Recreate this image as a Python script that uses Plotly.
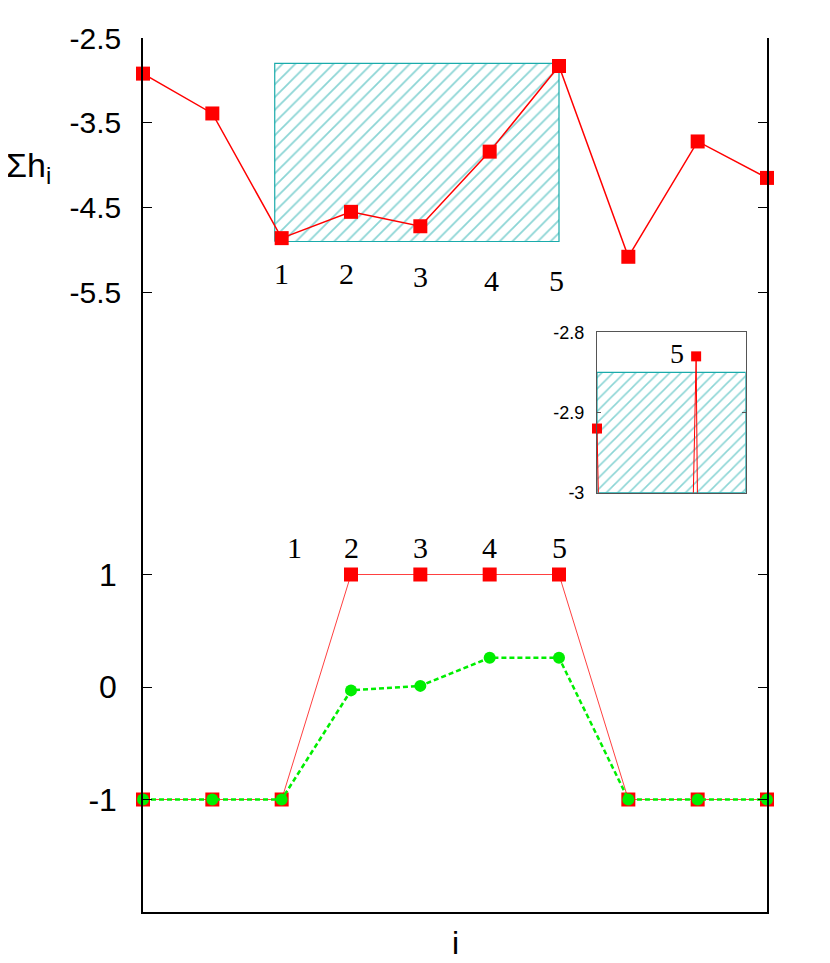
import plotly.graph_objects as go

# ---------------- data ----------------
i_vals = list(range(1, 11))
sum_h = [-2.92, -3.39, -4.86, -4.55, -4.72, -3.84, -2.83, -5.08, -3.72, -4.15]
spin = [-1, -1, -1, 1, 1, 1, 1, -1, -1, -1]
avg_spin = [-1, -1, -1, -0.03, 0.01, 0.26, 0.26, -1, -1, -1]

hatch_x = [2.9, 7.0]
hatch_y = [-4.9, -2.8]
inset_hatch_x = [1, 10]
inset_hatch_y = [-3.0, -2.85]

cluster_labels = ["1", "2", "3", "4", "5"]
upper_label_x = [3.0, 3.94, 5.0, 6.03, 6.97]
upper_label_y = [-5.28, -5.28, -5.31, -5.36, -5.36]
lower_label_x = [3.19, 4.0, 5.0, 6.0, 7.0]
lower_label_y = [1.24, 1.24, 1.24, 1.24, 1.24]

upper_ticks = [-2.5, -3.5, -4.5, -5.5]
lower_ticks = [1, 0, -1]
inset_ticks = [-2.8, -2.9, -3.0]
inset_ticktext = ["-2.8", "-2.9", "-3"]

RED = "#ff0000"
GREEN = "#00ee00"
TEAL = "#1aabab"
SANS = "Liberation Sans, Arial, sans-serif"
SERIF = "Liberation Serif, Times New Roman, serif"

# page body has an 8px margin: plot area target is x 143..767, y 38..912 on screen
OFF = 8
L, R, T, B = 143 - OFF, 830 - 767 + OFF, 38 - OFF, 963 - 912 + OFF
PW, PH = 830 - L - R, 963 - T - B  # 624 x 874

fig = go.Figure()

# main hatched rectangle (upper panel)
fig.add_trace(go.Scatter(
    x=[hatch_x[0], hatch_x[1], hatch_x[1], hatch_x[0], hatch_x[0]],
    y=[hatch_y[0], hatch_y[0], hatch_y[1], hatch_y[1], hatch_y[0]],
    xaxis="x", yaxis="y2", mode="lines", fill="toself",
    line=dict(color=TEAL, width=1.2),
    fillcolor="rgba(0,0,0,0)",
    fillpattern=dict(shape="/", fgcolor=TEAL, bgcolor="white", size=9, solidity=0.2),
    hoverinfo="skip", showlegend=False))

# upper series
fig.add_trace(go.Scatter(
    x=i_vals, y=sum_h, xaxis="x", yaxis="y2", mode="lines+markers",
    line=dict(color=RED, width=1.5),
    marker=dict(symbol="square", size=14, color=RED),
    cliponaxis=False, showlegend=False))

# lower series
fig.add_trace(go.Scatter(
    x=i_vals, y=spin, xaxis="x", yaxis="y", mode="lines+markers",
    line=dict(color="#ff4040", width=1),
    marker=dict(symbol="square", size=14, color=RED),
    cliponaxis=False, showlegend=False))
fig.add_trace(go.Scatter(
    x=i_vals, y=avg_spin, xaxis="x", yaxis="y", mode="lines+markers",
    line=dict(color=GREEN, width=2.5, dash="5px,3px"),
    marker=dict(symbol="circle", size=12, color=GREEN),
    cliponaxis=False, showlegend=False))

# inset hatch
fig.add_trace(go.Scatter(
    x=[inset_hatch_x[0], inset_hatch_x[1], inset_hatch_x[1], inset_hatch_x[0], inset_hatch_x[0]],
    y=[inset_hatch_y[0], inset_hatch_y[0], inset_hatch_y[1], inset_hatch_y[1], inset_hatch_y[0]],
    xaxis="x3", yaxis="y3", mode="lines", fill="toself",
    line=dict(color=TEAL, width=1.2),
    fillcolor="rgba(0,0,0,0)",
    fillpattern=dict(shape="/", fgcolor=TEAL, bgcolor="white", size=8, solidity=0.2),
    hoverinfo="skip", showlegend=False))

# inset series: lines clipped, markers only for in-range points
fig.add_trace(go.Scatter(
    x=i_vals, y=sum_h, xaxis="x3", yaxis="y3", mode="lines",
    line=dict(color=RED, width=1), showlegend=False))
in_x = [x for x, y in zip(i_vals, sum_h) if -3.0 <= y <= -2.8]
in_y = [y for y in sum_h if -3.0 <= y <= -2.8]
fig.add_trace(go.Scatter(
    x=in_x, y=in_y, xaxis="x3", yaxis="y3", mode="markers",
    marker=dict(symbol="square", size=10, color=RED),
    cliponaxis=False, showlegend=False))

annotations = []
for t, x, y in zip(cluster_labels, upper_label_x, upper_label_y):
    annotations.append(dict(x=x, y=y, xref="x", yref="y2", text=t, showarrow=False,
                            font=dict(family=SERIF, size=30, color="black")))
for t, x, y in zip(cluster_labels, lower_label_x, lower_label_y):
    annotations.append(dict(x=x, y=y, xref="x", yref="y", text=t, showarrow=False,
                            font=dict(family=SERIF, size=30, color="black")))
annotations.append(dict(x=5.83, y=-2.826, xref="x3", yref="y3", text="5", showarrow=False,
                        font=dict(family=SERIF, size=28, color="black")))
annotations.append(dict(x=(4 - 143) / PW, y=(912 - 168) / PH, xref="paper", yref="paper",
                        xanchor="left", yanchor="middle",
                        text="Σh<sub>i</sub>", showarrow=False,
                        font=dict(family=SANS, size=34, color="black")))
annotations.append(dict(x=(455 - 143) / PW, y=(912 - 943) / PH, xref="paper", yref="paper",
                        xanchor="center", yanchor="middle",
                        text="i", showarrow=False,
                        font=dict(family=SANS, size=32, color="black")))

split = 450 / PH

fig.update_layout(
    width=830, height=963,
    margin=dict(l=L, r=R, t=T, b=B),
    paper_bgcolor="white", plot_bgcolor="white",
    showlegend=False,
    xaxis=dict(domain=[0, 1], range=[1, 10], anchor="y", showline=True, linecolor="black",
               linewidth=1.5, ticks="", showticklabels=False, showgrid=False, zeroline=False),
    xaxis2=dict(domain=[0, 1], range=[1, 10], anchor="y2", side="top", matches="x",
                showline=True, linecolor="black", linewidth=1.5, ticks="",
                showticklabels=False, showgrid=False, zeroline=False),
    yaxis=dict(domain=[0, split], range=[-2, 2], anchor="x", showline=True, mirror="ticks",
               linecolor="black", linewidth=1.5, ticks="inside", ticklen=9, tickcolor="black",
               tickvals=lower_ticks, ticktext=[str(v) for v in lower_ticks],
               tickfont=dict(family=SANS, size=32, color="black"), ticklabelstandoff=18,
               showgrid=False, zeroline=False),
    yaxis2=dict(domain=[split, 1], range=[-7.5, -2.5], anchor="x2", showline=True, mirror="ticks",
                linecolor="black", linewidth=1.5, ticks="inside", ticklen=9, tickcolor="black",
                tickvals=upper_ticks, ticktext=[str(v) for v in upper_ticks],
                tickfont=dict(family=SANS, size=30, color="black"), ticklabelstandoff=14,
                showgrid=False, zeroline=False),
    xaxis3=dict(domain=[(597 - 143) / PW, (745.7 - 143) / PW], range=[1, 10], anchor="y3",
                showline=True, mirror=True, linecolor="#555555", linewidth=1, ticks="",
                showticklabels=False, showgrid=False, zeroline=False),
    yaxis3=dict(domain=[(912 - 492.7) / PH, (912 - 332.3) / PH], range=[-3.0, -2.8], anchor="x3",
                showline=True, mirror="ticks", linecolor="#555555", linewidth=1,
                ticks="inside", ticklen=4, tickcolor="#555555",
                tickvals=inset_ticks, ticktext=inset_ticktext,
                tickfont=dict(family=SANS, size=18, color="black"), ticklabelstandoff=8,
                showgrid=False, zeroline=False),
    annotations=annotations,
)

fig.write_html("out.html")
